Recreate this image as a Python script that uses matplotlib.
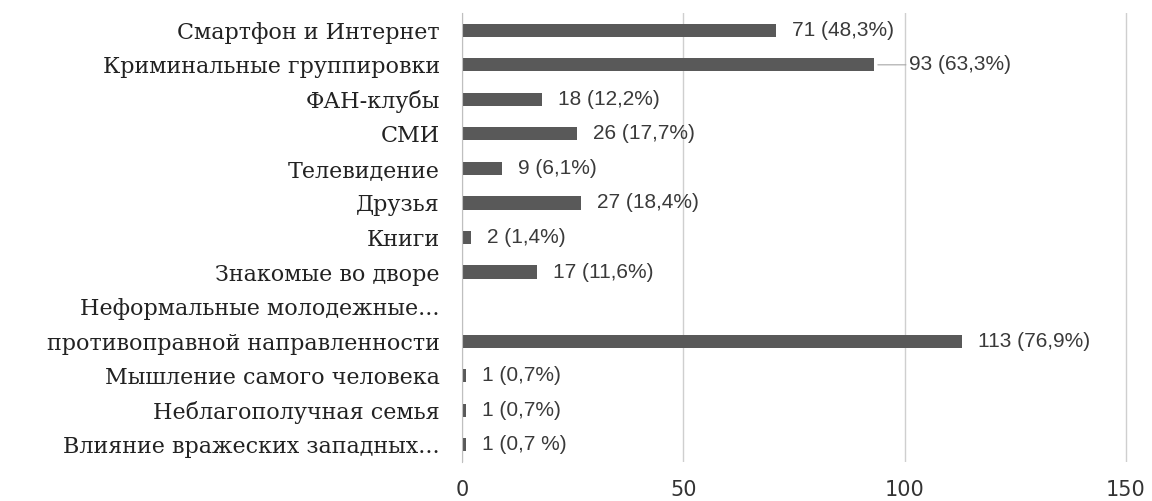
import numpy as np
import matplotlib
matplotlib.use("Agg")
import matplotlib.pyplot as plt

categories = ["Смартфон и Интернет", "Криминальные группировки", "ФАН-клубы", "СМИ",
              "Телевидение", "Друзья", "Книги", "Знакомые во дворе",
              "Неформальные молодежные...", "противоправной направленности",
              "Мышление самого человека", "Неблагополучная семья",
              "Влияние вражеских западных..."]
counts = [71, 93, 18, 26, 9, 27, 2, 17, np.nan, 113, 1, 1, 1]
value_labels = ["71 (48,3%)", "93 (63,3%)", "18 (12,2%)", "26 (17,7%)", "9 (6,1%)",
                "27 (18,4%)", "2 (1,4%)", "17 (11,6%)", "", "113 (76,9%)",
                "1 (0,7%)", "1 (0,7%)", "1 (0,7 %)"]
xticks = [0, 50, 100, 150]

BAR = "#595959"
VAL_FONT = ["Liberation Sans", "DejaVu Sans"]
fig = plt.figure(figsize=(11.52, 5.01), dpi=100)
ax = fig.add_axes([0.401, 0.078, 0.578, 0.896])

y = np.arange(len(categories))
ax.barh(y, np.nan_to_num(counts), height=0.38, color=BAR)
ax.set_ylim(len(categories) - 0.5, -0.5)
ax.set_xlim(0, 150.4)

for i, (v, lab) in enumerate(zip(counts, value_labels)):
    if not lab:
        continue
    if i == 1:
        # label pushed out with a leader line
        ax.annotate(lab, xy=(v, i), xytext=(35, 0), textcoords="offset pixels",
                    va="center", ha="left", fontsize=15, color="#3a3a3a",
                    family=VAL_FONT,
                    arrowprops=dict(arrowstyle="-", color="#a6a6a6", lw=0.8,
                                    shrinkA=0, shrinkB=3))
    else:
        ax.annotate(lab, xy=(v, i), xytext=(16, 0), textcoords="offset pixels",
                    va="center", ha="left", fontsize=15, color="#3a3a3a",
                    family=VAL_FONT)

ax.set_yticks(y)
ax.set_yticklabels(categories, family="DejaVu Serif", fontsize=16, color="#222222")
ax.set_xticks(xticks)
ax.set_xticklabels([str(t) for t in xticks], fontsize=15, color="#333333")
ax.tick_params(axis="y", length=0, pad=16)
ax.tick_params(axis="x", length=0, pad=13)

ax.grid(axis="x", color="#cfcfcf", lw=1)
ax.set_axisbelow(True)
for s in ["top", "right", "bottom"]:
    ax.spines[s].set_visible(False)
ax.spines["left"].set_color("#bfbfbf")

fig.savefig("out.png", dpi=100)
